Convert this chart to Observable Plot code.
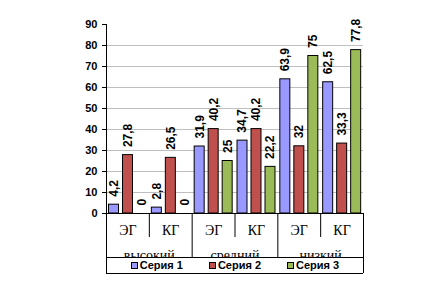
<!DOCTYPE html>
<html><head><meta charset="utf-8">
<script src="https://cdn.jsdelivr.net/npm/d3@7"></script>
<script src="https://cdn.jsdelivr.net/npm/@observablehq/plot@0.6"></script>
<style>
body{margin:0;background:#fff;}
#chart{position:relative;width:438px;height:281px;}
#legend{position:absolute;left:107px;width:256px;top:258px;height:14px;background:#fff;display:flex;justify-content:center;align-items:center;gap:26px;font:bold 11px "Liberation Sans",Arial,sans-serif;line-height:11px;}
.item{display:flex;align-items:center;}
.sw{width:5px;height:5px;border:1px solid #000;margin-right:2px;}
g[aria-label^="y-axis"] text{font-weight:bold;font-size:11px;}
</style></head><body><div id="chart"></div>
<script>
const groups = ["высокий", "средний", "низкий"];
const subgroups = ["ЭГ", "КГ"];
const seriesNames = ["Серия 1", "Серия 2", "Серия 3"];
const seriesColors = ["#9999FF", "#C0504D", "#9BBB59"];
const serie1 = [4.2, 2.8, 31.9, 34.7, 63.9, 62.5];
const serie2 = [27.8, 26.5, 40.2, 40.2, 32, 33.3];
const serie3 = [0, 0, 25, 22.2, 75, 77.8];
const yTicks = [0, 10, 20, 30, 40, 50, 60, 70, 80, 90];
const gridTicks = [10, 20, 30, 40, 50, 60, 70, 80];

const W = 438, H = 281, mt = 24, mb = 68, ml = 106, mr = 75;
const frameH = H - mt - mb;
const nCat = groups.length * subgroups.length;
const band = (W - ml - mr) / nCat;
const barW = 10, barStep = 14, barPad = 2.5;

const cats = [];
groups.forEach((g, gi) => subgroups.forEach((s, si) => cats.push({i: gi * subgroups.length + si, label: s, group: g})));
const groupRows = groups.map((g, gi) => ({x: gi * subgroups.length + subgroups.length / 2, label: g}));
const allSeries = [serie1, serie2, serie3];
const fmt = v => String(v).replace(".", ",");

const marks = [
  Plot.ruleY(gridTicks, {stroke: "#bfbfbf"})
];
allSeries.forEach((vals, k) => {
  const rows = vals.map((v, i) => ({i, value: v}));
  const left = barPad + barStep * k;
  marks.push(Plot.rect(rows, {
    x1: d => d.i, x2: d => d.i + 1, y1: 0, y2: "value",
    fill: seriesColors[k], stroke: "#000", strokeWidth: 1,
    insetLeft: left, insetRight: band - left - barW
  }));
  marks.push(Plot.text(rows, {
    x: d => d.i, y: "value", text: d => fmt(d.value),
    rotate: -90, textAnchor: "start", lineAnchor: "middle",
    dx: left + barW / 2, dy: -8,
    fontWeight: "bold", fontSize: 12, fontFamily: "Liberation Sans", fill: "#000"
  }));
});
marks.push(
  Plot.text(cats, {x: d => d.i + 0.5, text: "label", frameAnchor: "bottom", lineAnchor: "bottom", dy: 21,
    fontFamily: "Liberation Serif", fontSize: 14, fill: "#000"}),
  Plot.text(groupRows, {x: "x", text: "label", frameAnchor: "bottom", lineAnchor: "bottom", dy: 46,
    fontFamily: "Liberation Serif", fontSize: 14, fill: "#000"}),
  Plot.ruleY([0], {stroke: "#000"}),
  Plot.ruleY([0], {stroke: "#000", dy: 44}),
  Plot.ruleY([0], {stroke: "#000", dy: 60}),
  Plot.ruleX([0], {stroke: "#000", insetBottom: -60}),
  Plot.ruleX([nCat], {stroke: "#000", insetTop: frameH, insetBottom: -60}),
  Plot.ruleX(cats.filter(c => c.i % 2 === 1).map(c => c.i), {stroke: "#000", insetTop: frameH, insetBottom: -24}),
  Plot.ruleX(cats.filter(c => c.i % 2 === 0 && c.i > 0).map(c => c.i), {stroke: "#000", insetTop: frameH, insetBottom: -49})
);

const chart = Plot.plot({
  width: W, height: H,
  marginTop: mt, marginBottom: mb, marginLeft: ml, marginRight: mr,
  style: {fontFamily: "Liberation Sans", fontSize: "11px", background: "#fff", color: "#000"},
  x: {type: "linear", domain: [0, nCat], axis: null},
  y: {domain: [0, 90], ticks: yTicks, tickSize: 4, tickPadding: 5, label: null},
  marks
});
const host = document.getElementById("chart");
host.appendChild(chart);

const legend = document.createElement("div");
legend.id = "legend";
seriesNames.forEach((n, k) => {
  const it = document.createElement("div");
  it.className = "item";
  const sw = document.createElement("span");
  sw.className = "sw";
  sw.style.background = seriesColors[k];
  const t = document.createElement("span");
  t.textContent = n;
  it.appendChild(sw); it.appendChild(t);
  legend.appendChild(it);
});
host.appendChild(legend);
</script></body></html>
